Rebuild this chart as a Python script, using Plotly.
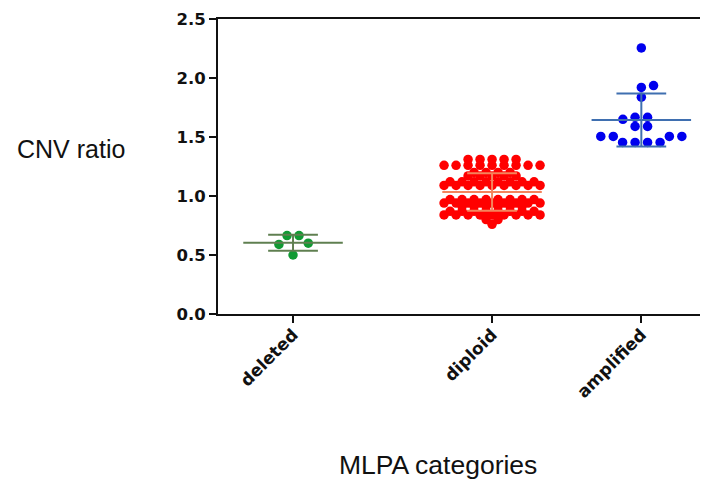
import math
import plotly.graph_objects as go

# ---- data ----
categories = ["deleted", "diploid", "amplified"]
deleted_vals = [0.50, 0.59, 0.60, 0.665, 0.665]
diploid_vals = ([1.31] * 5 + [1.26] * 9 + [1.20] * 4 + [1.17] * 5 + [1.12] * 8 +
                [1.09] * 9 + [0.97] * 8 + [0.94] * 9 + [0.91] * 6 + [0.87] * 8 +
                [0.84] * 9 + [0.80] * 2 + [0.76])
amplified_vals = [1.454, 1.454, 1.454, 1.454, 1.505, 1.505, 1.505, 1.505,
                  1.59, 1.59, 1.65, 1.667, 1.667, 1.837, 1.92, 1.936, 2.255]
y_ticks = [0.0, 0.5, 1.0, 1.5, 2.0, 2.5]

# ---- layout / style ----
cat_pos = [1.0, 3.0, 4.5]
x_range = [0.246, 5.17]
y_range = [0.0, 2.5]
PAGE_OFF = 8  # default body margin of the written html page
W, H = 708 - PAGE_OFF, 479 - PAGE_OFF
ML, MR, MT = 218 - PAGE_OFF, 0, 19 - PAGE_OFF
plot_h = 295
MB = H - MT - plot_h
plot_w = W - ML - MR
px_x = plot_w / (x_range[1] - x_range[0])
px_y = plot_h / (y_range[1] - y_range[0])

dot_colors = ["#119a33", "#ff0000", "#0000ee"]
line_colors = ["#5f7f50", "#f4845c", "#3f6fb0"]
swarm_dx = [12.0, 12.0, 12.5]
swarm_dy = [12.0, 3.0, 9.0]


def swarm(values, dd, dv):
    """Column-scatter layout: identical values centred in a row when free,
    otherwise a beeswarm placement closest to the column centre."""
    placed = []
    offs = [0.0] * len(values)
    groups = {}
    for i, v in enumerate(values):
        groups.setdefault(v, []).append(i)
    multi = sorted([g for g in groups if len(groups[g]) > 1], key=lambda v: (-len(groups[v]), v))
    singles = sorted([g for g in groups if len(groups[g]) == 1])

    def collides(x, y):
        for (xp, yp) in placed:
            d = abs(y - yp) / dv
            if d < 1 and abs(x - xp) < dd * math.sqrt(1 - d * d) - 1e-6:
                return True
        return False

    def place_one(i, state):
        y = values[i] * px_y
        ints = []
        for (xp, yp) in placed:
            d = abs(y - yp) / dv
            if d < 1:
                w = dd * math.sqrt(1 - d * d)
                ints.append((xp - w, xp + w))
        cands = [0.0]
        for a, b in ints:
            cands += [a, b]
        ok = [c for c in cands if not any(a + 1e-6 < c < b - 1e-6 for a, b in ints)]
        best = min(abs(c) for c in ok)
        choices = [c for c in ok if abs(abs(c) - best) < 1e-6]
        if len(choices) > 1:
            c = min(choices) if state[0] > 0 else max(choices)
        else:
            c = choices[0]
        if c != 0:
            state[0] = 1 if c > 0 else -1
        offs[i] = c
        placed.append((c, y))

    state = [1]
    for v in multi:
        idx = groups[v]
        n = len(idx)
        y = v * px_y
        xs = [(j - (n - 1) / 2) * dd for j in range(n)]
        if not any(collides(x, y) for x in xs):
            for i, x in zip(idx, xs):
                offs[i] = x
                placed.append((x, y))
        else:
            for i in idx:
                place_one(i, state)
    for v in singles:
        place_one(groups[v][0], state)
    return [o / px_x for o in offs]


def page_to_paper_x(px):
    return (px - PAGE_OFF - ML) / plot_w


def page_to_paper_y(py):
    return (MT + plot_h - (py - PAGE_OFF)) / plot_h


fig = go.Figure()
shapes = []
all_vals = [deleted_vals, diploid_vals, amplified_vals]
for k, vals in enumerate(all_vals):
    offs = swarm(vals, swarm_dx[k], swarm_dy[k])
    xs = [cat_pos[k] + o for o in offs]
    fig.add_trace(go.Scatter(x=xs, y=vals, mode="markers",
                             marker=dict(size=9.5, color=dot_colors[k], line=dict(width=0)),
                             showlegend=False, hoverinfo="skip"))
    n = len(vals)
    m = sum(vals) / n
    sd = math.sqrt(sum((v - m) ** 2 for v in vals) / (n - 1))
    c = cat_pos[k]
    lc = line_colors[k]
    for (x0, x1, y0, y1) in [(c - 0.5, c + 0.5, m, m),
                             (c - 0.25, c + 0.25, m + sd, m + sd),
                             (c - 0.25, c + 0.25, m - sd, m - sd),
                             (c, c, m - sd, m + sd)]:
        shapes.append(dict(type="line", xref="x", yref="y", x0=x0, x1=x1, y0=y0, y1=y1,
                           line=dict(color=lc, width=2), layer="above"))

ytick_font = dict(family="DejaVu Sans", size=16.5, color="#111111", weight="bold")
xtick_font = dict(family="DejaVu Sans", size=17, color="#111111", weight="bold")
fig.update_layout(
    width=W, height=H,
    margin=dict(l=ML, r=MR, t=MT, b=MB, autoexpand=False),
    plot_bgcolor="white", paper_bgcolor="white",
    shapes=shapes,
    xaxis=dict(range=x_range, tickmode="array", tickvals=cat_pos, ticktext=categories,
               tickangle=-45, showline=True, linecolor="#111111", linewidth=2, mirror=True,
               ticks="outside", ticklen=7, tickwidth=2, tickcolor="#111111",
               ticklabelstandoff=-5,
               showgrid=False, zeroline=False, tickfont=xtick_font),
    yaxis=dict(range=y_range, tickmode="array", tickvals=y_ticks,
               ticktext=[f"{v:.1f}" for v in y_ticks],
               showline=True, linecolor="#111111", linewidth=2,
               ticks="outside", ticklen=7, tickwidth=2, tickcolor="#111111",
               showgrid=False, zeroline=False, tickfont=ytick_font),
    annotations=[
        dict(text="CNV ratio", xref="paper", yref="paper",
             x=page_to_paper_x(15), y=page_to_paper_y(149),
             xanchor="left", yanchor="middle", showarrow=False,
             font=dict(family="Liberation Sans, Arial", size=25, color="#111111")),
        dict(text="MLPA categories", xref="paper", yref="paper",
             x=page_to_paper_x(438), y=page_to_paper_y(465),
             xanchor="center", yanchor="middle", showarrow=False,
             font=dict(family="Liberation Sans, Arial", size=26.5, color="#111111")),
    ],
)

fig.write_html("out.html")
